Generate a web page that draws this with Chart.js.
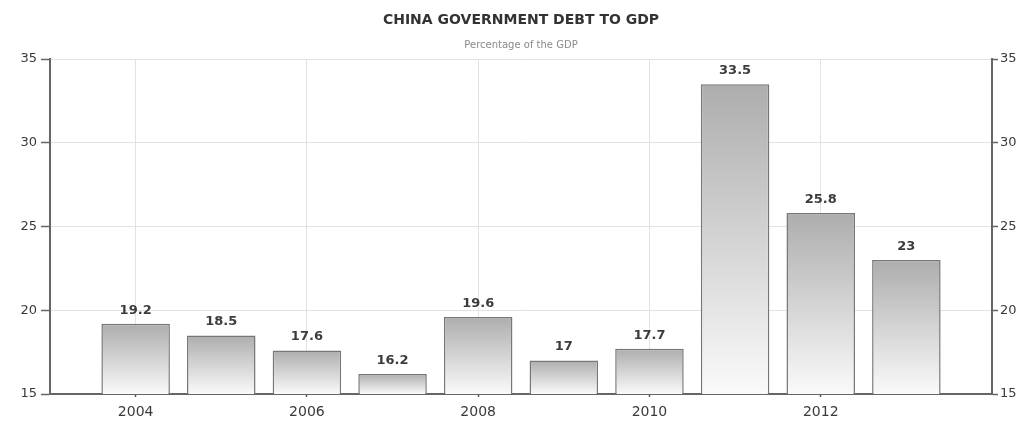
<!DOCTYPE html>
<html>
<head>
<meta charset="utf-8">
<script src="https://cdn.jsdelivr.net/npm/chart.js@4/dist/chart.umd.min.js"></script>
<style>
  html, body { margin: 0; padding: 0; background: #fff; }
  #wrap { width: 1030px; height: 423px; position: relative; }
</style>
</head>
<body>
<div id="wrap"><canvas id="c"></canvas></div>
<script>
// Government debt as a share of GDP, by year
const years = [2004, 2005, 2006, 2007, 2008, 2009, 2010, 2011, 2012, 2013];
const debtToGdp = [19.2, 18.5, 17.6, 16.2, 19.6, 17, 17.7, 33.5, 25.8, 23];
const yearTicks = [2004, 2006, 2008, 2010, 2012];
const valueTicks = [15, 20, 25, 30, 35];

const titleText = 'CHINA GOVERNMENT DEBT TO GDP';
const subtitleText = 'Percentage of the GDP';

const FONT = '"DejaVu Sans", Verdana, sans-serif';

// Title and subtitle centred over the plot area
const headingPlugin = {
  id: 'heading',
  afterDraw(chart) {
    const { ctx, chartArea } = chart;
    const cx = (chartArea.left + chartArea.right) / 2;
    ctx.save();
    ctx.textAlign = 'center';
    ctx.textBaseline = 'middle';
    ctx.fillStyle = '#333';
    ctx.font = 'bold 14px ' + FONT;
    ctx.fillText(titleText, cx, 20);
    ctx.fillStyle = '#8a8a8a';
    ctx.font = '10px ' + FONT;
    ctx.fillText(subtitleText, cx, 45);
    ctx.restore();
  }
};

// Value printed above each bar
const barValuePlugin = {
  id: 'barValues',
  afterDatasetsDraw(chart) {
    const { ctx } = chart;
    const meta = chart.getDatasetMeta(0);
    ctx.save();
    ctx.textAlign = 'center';
    ctx.textBaseline = 'bottom';
    ctx.fillStyle = '#3c3c3c';
    ctx.font = 'bold 13px ' + FONT;
    meta.data.forEach((bar, i) => {
      ctx.fillText(String(debtToGdp[i]), bar.x, bar.y - 7);
    });
    ctx.restore();
  }
};

// Gray-to-white vertical gradient for each bar
function barFill(context) {
  const chart = context.chart;
  const area = chart.chartArea;
  if (!area || context.type !== 'data' || !chart.scales.y) return '#c0c0c0';
  const top = chart.scales.y.getPixelForValue(context.raw.y);
  const g = chart.ctx.createLinearGradient(0, top, 0, area.bottom);
  g.addColorStop(0, '#adadad');
  g.addColorStop(1, '#fafafa');
  return g;
}

const fixedTicks = (list) => (scale) => { scale.ticks = list.map(v => ({ value: v })); };

new Chart(document.getElementById('c'), {
  type: 'bar',
  data: {
    datasets: [{
      data: years.map((y, i) => ({ x: y, y: debtToGdp[i] })),
      backgroundColor: barFill,
      borderColor: '#777',
      borderWidth: 1.5,
      borderSkipped: 'bottom',
      categoryPercentage: 1,
      barPercentage: 0.8,
      yAxisID: 'y'
    }]
  },
  options: {
    responsive: true,
    maintainAspectRatio: false,
    animation: false,
    layout: { padding: { top: 59, left: 0, right: 0, bottom: 0 } },
    plugins: {
      legend: { display: false },
      tooltip: { enabled: false },
      title: { display: false }
    },
    scales: {
      x: {
        type: 'linear',
        min: 2003,
        max: 2014,
        offset: false,
        afterBuildTicks: fixedTicks(yearTicks),
        afterFit(scale) { scale.height = 29; },
        grid: { offset: false, color: '#e2e2e2', lineWidth: 1, tickLength: 3, tickColor: '#555', tickWidth: 1.5 },
        border: { color: '#666', width: 2 },
        ticks: {
          color: '#3a3a3a',
          font: { family: FONT, size: 14 },
          padding: 7,
          maxRotation: 0,
          callback: (v) => String(v)
        }
      },
      y: {
        position: 'left',
        min: 15,
        max: 35,
        afterBuildTicks: fixedTicks(valueTicks),
        afterFit(scale) { scale.width = 50; },
        grid: { color: '#e2e2e2', lineWidth: 1, tickLength: 9, tickColor: '#666', tickWidth: 1.5 },
        border: { color: '#666', width: 2 },
        ticks: {
          color: '#3a3a3a',
          font: { family: FONT, size: 13 },
          padding: 4,
          callback: (v) => String(v)
        }
      },
      y2: {
        position: 'right',
        min: 15,
        max: 35,
        afterBuildTicks: fixedTicks(valueTicks),
        afterFit(scale) { scale.width = 38; },
        grid: { drawOnChartArea: false, tickLength: 6, tickColor: '#666', tickWidth: 1.5 },
        border: { color: '#666', width: 2 },
        ticks: {
          color: '#3a3a3a',
          font: { family: FONT, size: 13 },
          padding: 2,
          callback: (v) => String(v)
        }
      }
    }
  },
  plugins: [headingPlugin, barValuePlugin]
});
</script>
</body>
</html>
